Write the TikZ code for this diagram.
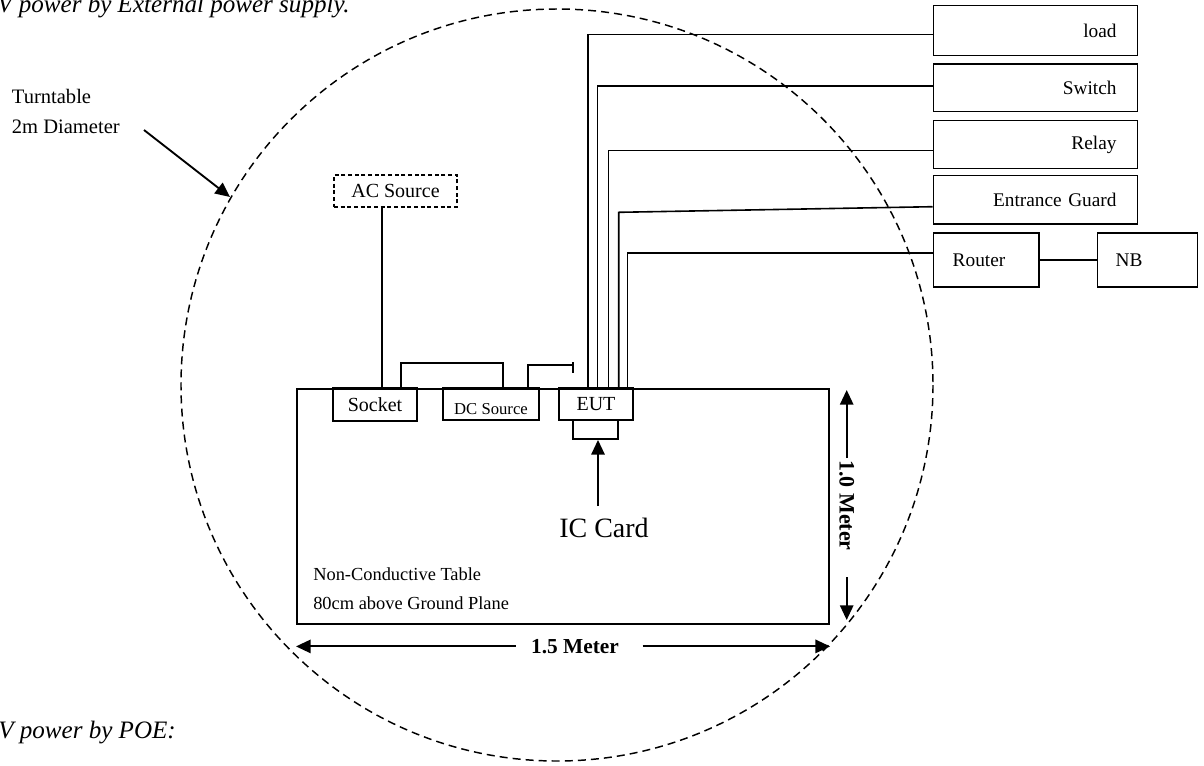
\documentclass[tikz,border=0pt]{standalone}
\usepackage{fontspec}
\setmainfont{Liberation Serif}
\usetikzlibrary{arrows.meta}
\begin{document}
\begin{tikzpicture}[x=0.75pt,y=-0.75pt,
  box/.style={draw, line width=1.1pt, inner sep=0pt, rectangle},
  rbox/.style={box, anchor=north west, font=\fontsize{14.5}{17}\selectfont, inner ysep=0pt},
  lbox/.style={box, font=\fontsize{15}{18}\selectfont},
  wire/.style={line width=1.2pt},
  arr/.style={line width=1.4pt, -{Triangle[length=11pt,width=10pt]}},
  lab/.style={inner sep=0pt},
]
\useasboundingbox (0,0) rectangle (1204,765);

% titles
\node[lab, anchor=base west, font=\fontsize{18.8}{22}\selectfont\itshape] (ttl1) at (-3,12.7) {V power by External power supply.};
\node[lab, anchor=base west, font=\fontsize{18.8}{22}\selectfont\itshape] (ttl2) at (-2,738) {V power by POE:};

% turntable
\draw[dash pattern=on 6pt off 3.8pt, line width=1.1pt] (557,385) circle [radius=376];
\node[lab, anchor=base west, font=\fontsize{15.4}{18}\selectfont] (tt1) at (11.7,103.5) {Turntable};
\node[lab, anchor=base west, font=\fontsize{15.4}{18}\selectfont] (tt2) at (11.7,133) {2m Diameter};
\coordinate (tta) at (144,130);
\coordinate (ttb) at (230,197);
\draw[arr] (tta) -- (ttb);

% table
\node[draw, line width=1.6pt, inner sep=0pt, minimum width=399pt, minimum height=176.25pt, anchor=north west] (table) at (296,388) {};
\node[lab, anchor=base west, font=\fontsize{13.8}{17}\selectfont] (nct1) at (313,580) {Non-Conductive Table};
\node[lab, anchor=base west, font=\fontsize{13.8}{17}\selectfont] (nct2) at (313,609) {80cm above Ground Plane};

% boxes on table
\node[lbox, minimum width=63pt, minimum height=24.75pt] (sock) at (375,404.5) {Socket};
\node[box, minimum width=72pt, minimum height=24pt] (dc) at (491,404) {};
\node[lab, font=\fontsize{12.5}{15}\selectfont] (dct) at (491,409.5) {DC Source};
\node[lbox, minimum width=55.5pt, minimum height=24pt] (eut) at (596,404) {EUT};
\node[box, line width=1.4pt, minimum width=33.75pt, minimum height=14.25pt] (slot) at (595.5,429.5) {};

% AC source
\node[box, dash pattern=on 3pt off 2pt, line width=1pt, font=\fontsize{15}{18}\selectfont, minimum width=92.25pt, minimum height=24pt] (ac) at (395.5,191) {AC Source};
\coordinate (acb) at (382,388);
\draw[wire] (ac.south -| acb) -- (acb);

% brackets
\coordinate (b1a) at (401,388);
\coordinate (b1b) at (401,363);
\coordinate (b1c) at (503,363);
\coordinate (b1d) at (503,388);
\draw[wire] (b1a) -- (b1b) -- (b1c) -- (b1d);
\coordinate (b2a) at (528,388);
\coordinate (b2b) at (528,365);
\coordinate (b2c) at (573,365);
\coordinate (b2t) at (573,362);
\coordinate (b2u) at (573,373);
\draw[wire] (b2a) -- (b2b) -- (b2c);
\draw[wire] (b2t) -- (b2u);

% right boxes
\node[rbox, minimum width=153pt, minimum height=37.5pt, text width=122pt, inner xsep=15.5pt, align=right] (load) at (932.5,5) {load};
\node[rbox, minimum width=153pt, minimum height=35.55pt, text width=122pt, inner xsep=15.5pt, align=right] (sw) at (932.5,63.3) {Switch};
\node[rbox, minimum width=153pt, minimum height=35.8pt, text width=122pt, inner xsep=15.5pt, align=right] (relay) at (932.5,120) {Relay};
\node[rbox, minimum width=153pt, minimum height=36.2pt, text width=122pt, inner xsep=15.5pt, align=right] (eg) at (932.5,175) {Entrance Guard};
\node[rbox, minimum height=40.3pt, text width=50.15pt, inner xsep=14.6pt, align=left] (router) at (932.5,232.3) {Router};
\node[rbox, minimum height=40.3pt, text width=47.6pt, inner xsep=13.7pt, align=left] (nb) at (1096.7,232.3) {NB};
\draw[wire] (router.east) -- (nb.west);

% EUT cables
\coordinate (w1) at (588,34.3);
\coordinate (w2) at (597.5,85.7);
\coordinate (w3) at (608.3,150.3);
\coordinate (w4) at (618.7,212.3);
\coordinate (w5) at (627.5,252.7);
\coordinate (w4e) at (932.5,206.7);
\draw[wire] (eut.north -| w1) -- (w1) -- (w1 -| load.west);
\draw[wire] (eut.north -| w2) -- (w2) -- (w2 -| sw.west);
\draw[wire] (eut.north -| w3) -- (w3) -- (w3 -| relay.west);
\draw[wire] (eut.north -| w4) -- (w4) -- (w4e);
\draw[wire] (eut.north -| w5) -- (w5) -- (w5 -| router.west);

% IC card
\node[lab, font=\fontsize{21}{25}\selectfont] (ic) at (604,527.5) {IC Card};
\coordinate (ica) at (598,506);
\draw[arr] (ica) -- (slot.south -| ica);

% dimensions
\node[lab, font=\fontsize{16}{19}\selectfont\bfseries] (m15) at (575,646.4) {1.5 Meter};
\coordinate (m15l) at (515.7,646.4);
\coordinate (m15r) at (642.5,646.4);
\draw[arr] (m15l) -- (m15l -| table.west);
\draw[arr] (m15r) -- (m15r -| table.east);
\node[lab, rotate=-90, font=\fontsize{16.5}{19}\selectfont\bfseries] (m10) at (846.7,505.5) {1.0 Meter};
\coordinate (m10t) at (846.7,458);
\coordinate (m10b) at (846.7,577);
\coordinate (m10tt) at (846.7,390);
\coordinate (m10bt) at (846.7,620);
\draw[arr] (m10t) -- (m10tt);
\draw[arr] (m10b) -- (m10bt);
\end{tikzpicture}
\end{document}
